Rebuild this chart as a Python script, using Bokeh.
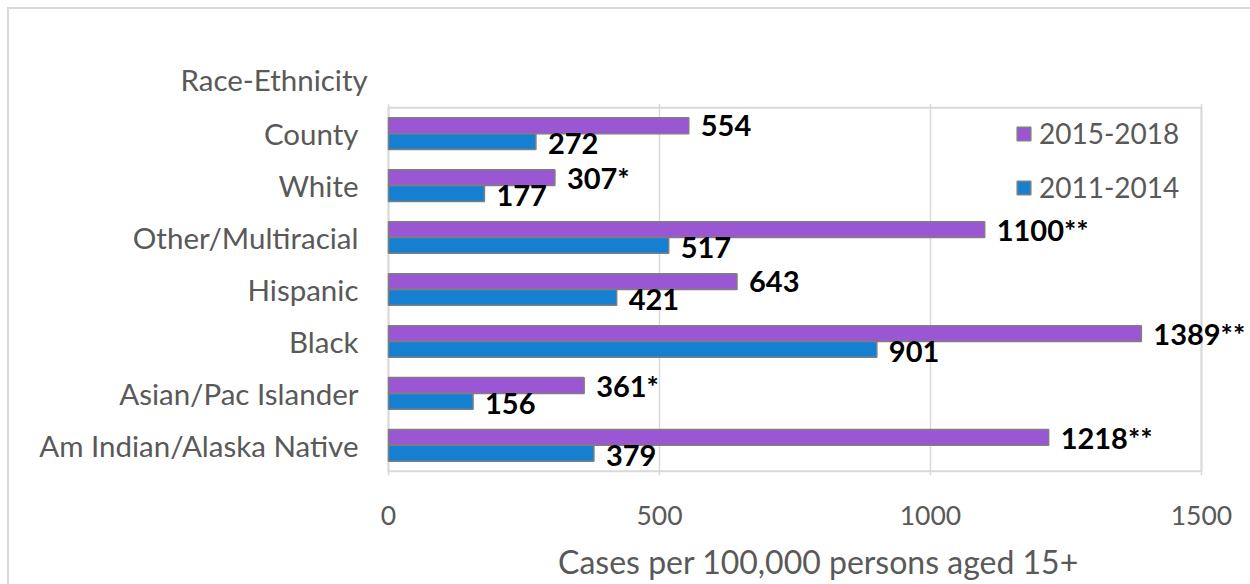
from bokeh.plotting import figure
from bokeh.models import (ColumnDataSource, FactorRange, Range1d, FixedTicker, LabelSet, Legend,
                          LegendItem, Title)
from bokeh.core.properties import value
from bokeh.transform import dodge
from bokeh.embed import file_html
from bokeh.resources import INLINE

categories = ["Am Indian/Alaska Native", "Asian/Pac Islander", "Black", "Hispanic",
              "Other/Multiracial", "White", "County"]
values_2015_2018 = [1218, 361, 1389, 643, 1100, 307, 554]
labels_2015_2018 = ["1218**", "361*", "1389**", "643", "1100**", "307*", "554"]
values_2011_2014 = [379, 156, 901, 421, 517, 177, 272]
labels_2011_2014 = ["379", "156", "901", "421", "517", "177", "272"]
series_names = ["2015-2018", "2011-2014"]
x_ticks = [0, 500, 1000, 1500]

PURPLE = "#9B57D3"
BLUE = "#1580D2"
GRAY = "#595959"
BORDER = "#d9d9d9"
FONT = "Lato"

src = ColumnDataSource(dict(cat=categories,
                            v15=values_2015_2018, l15=labels_2015_2018,
                            v11=values_2011_2014, l11=labels_2011_2014))

# plot box: 0..1500 over 813 px; frame widened (2 px left, 49 px right) so that the
# box border and value labels past 1500 are not cut off
px = x_ticks[-1] / 813.0
frame_w = 864
x_start = -2 * px
x_end = x_start + frame_w * px

p = figure(width=1241, height=575,
           y_range=FactorRange(*categories, range_padding=0.08, range_padding_units="absolute"),
           x_range=Range1d(x_start, x_end), output_backend="svg", toolbar_location=None,
           frame_width=frame_w, frame_height=372,
           min_border_left=377, min_border_right=0, min_border_top=94, min_border_bottom=109)
p.styles = {"margin-left": "7px", "margin-top": "7px",
            "border-left": "2px solid #d9d9d9", "border-top": "2px solid #d9d9d9"}

# plot-area border box (light gray outline around 0..1500 and all categories)
n = len(categories)
box = ColumnDataSource(dict(y=[n / 2], h=[n], l=[x_ticks[0]], r=[x_ticks[-1]]))
p.hbar(y="y", height="h", left="l", right="r", source=box, fill_color=None,
       line_color=BORDER, line_width=2, level="underlay")

bh = 0.304
r15 = p.hbar(y=dodge("cat", 0.152, range=p.y_range), right="v15", left=0, height=bh, source=src,
             fill_color=PURPLE, line_color="#7f7f7f", line_width=1.5)
r11 = p.hbar(y=dodge("cat", -0.152, range=p.y_range), right="v11", left=0, height=bh, source=src,
             fill_color=BLUE, line_color="#7f7f7f", line_width=1.5)

for col, lab, off, yoff in [("v15", "l15", 0.152, 0), ("v11", "l11", -0.152, -2)]:
    ls = LabelSet(x=col, y=dodge("cat", off, range=p.y_range), text=lab, source=src,
                  x_offset=12, y_offset=yoff, text_baseline="middle", text_align="left",
                  text_font=value(FONT), text_font_style="bold", text_font_size="29px",
                  text_color="black")
    p.add_layout(ls)

p.outline_line_color = None
p.xgrid.grid_line_color = BORDER
p.xgrid.grid_line_width = 1.5
p.ygrid.grid_line_color = None
p.xaxis.ticker = FixedTicker(ticks=x_ticks)

for ax in (p.xaxis[0], p.yaxis[0]):
    ax.axis_line_color = None
    ax.major_tick_line_color = None
    ax.minor_tick_line_color = None
    ax.major_tick_out = 0
    ax.major_tick_in = 0
    ax.major_label_text_font = FONT
    ax.major_label_text_color = GRAY

p.yaxis.major_label_text_font_size = "29.5px"
p.xaxis.major_label_text_font_size = "26.5px"
p.yaxis.major_label_standoff = 28
p.xaxis.major_label_standoff = 30
p.xaxis.axis_label = "Cases per 100,000 persons aged 15+"
p.xaxis.axis_label_text_font = FONT
p.xaxis.axis_label_text_font_size = "32px"
p.xaxis.axis_label_text_font_style = "normal"
p.xaxis.axis_label_text_color = GRAY
p.xaxis.axis_label_standoff = 14

legend = Legend(items=[LegendItem(label=series_names[0], renderers=[r15]),
                       LegendItem(label=series_names[1], renderers=[r11])],
                location=(629, 271), orientation="vertical",
                background_fill_alpha=0, border_line_color=None,
                label_text_font=FONT, label_text_font_size="28px", label_text_color=GRAY,
                glyph_width=17, glyph_height=17, label_standoff=7, spacing=20,
                padding=0, margin=0)
p.add_layout(legend)

p.add_layout(Title(text="Race-Ethnicity", align="left", offset=-206, standoff=13,
                   text_font=FONT, text_font_size="29.5px", text_font_style="normal",
                   text_color=GRAY), "above")

open("out.html", "w").write(file_html(p, INLINE))
